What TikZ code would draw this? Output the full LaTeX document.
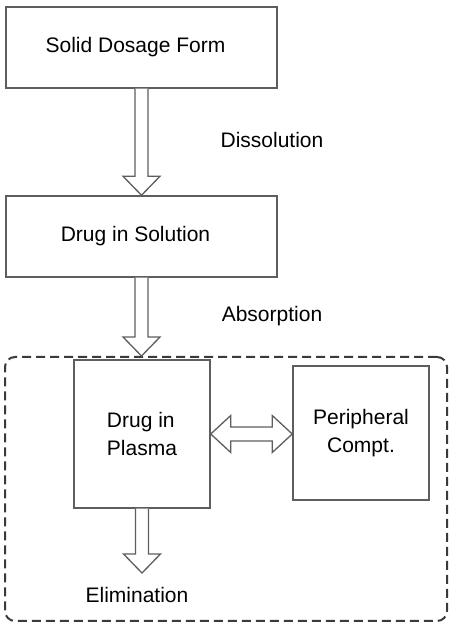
\documentclass[tikz,border=0pt]{standalone}
\usepackage{fontspec}
\setmainfont{Liberation Sans}
\usetikzlibrary{calc}

\definecolor{boxgray}{HTML}{5E5E5E}
\definecolor{dashgray}{HTML}{3A3A3A}

\tikzset{
  stage/.style={shape=rectangle, draw=boxgray, line width=1.5pt, fill=white, align=center, inner sep=0pt},
  hollow/.style={draw=boxgray, line width=1.3pt, fill=white, line join=miter},
  dashbox/.style={shape=rectangle, draw=dashgray, line width=2pt, dash pattern=on 9pt off 5pt, rounded corners=10pt, inner sep=0pt},
  rate/.style={align=center, inner sep=0pt}
}

% hollow block arrow pointing down, from #1 to the tip at #2
\newcommand{\fatdown}[2]{%
  \draw[hollow] let \p1=(#1), \p2=(#2) in
    (\x1-6.5pt,\y1) -- (\x1-6.5pt,\y2+19pt) -- (\x1-18.5pt,\y2+19pt) -- (\x1,\y2)
    -- (\x1+18.5pt,\y2+19pt) -- (\x1+6.5pt,\y2+19pt) -- (\x1+6.5pt,\y1);}

% hollow block arrow with two heads, from #1 to #2
\newcommand{\fatboth}[2]{%
  \draw[hollow] let \p1=(#1), \p2=(#2) in
    (\x1,\y1) -- (\x1+20pt,\y1+18.5pt) -- (\x1+20pt,\y1+7pt) -- (\x2-20pt,\y1+7pt)
    -- (\x2-20pt,\y1+18.5pt) -- (\x2,\y1) -- (\x2-20pt,\y1-18.5pt) -- (\x2-20pt,\y1-7pt)
    -- (\x1+20pt,\y1-7pt) -- (\x1+20pt,\y1-18.5pt) -- cycle;}

\begin{document}
\begin{tikzpicture}[x=1pt, y=1pt, font=\fontsize{21}{28}\selectfont]
\useasboundingbox (0,0) rectangle (448,624);

\node (body) at (226,135) [dashbox, minimum width=442, minimum height=264] {};

\begin{scope}[every node/.style={stage}]
    \node (solid) at (141.5,576.5) [minimum width=271, minimum height=81] {Solid Dosage Form\hspace*{12pt}};
    \node (solution) at (141.5,387.5) [minimum width=271, minimum height=81] {Drug in Solution\hspace*{12pt}};
    \node (plasma) at (142,190) [minimum width=136, minimum height=148, align=left] {Drug in\\Plasma};
    \node (periph) at (361,191) [minimum width=136, minimum height=134] {Peripheral\\Compt.};
\end{scope}

\begin{scope}[every node/.style={rate}]
    \node (dissol) at (272,484) {Dissolution};
    \node (absorb) at (272,308) {Absorption};
    \node (elim) at (137,29) {Elimination};
\end{scope}

\coordinate (elimtip) at (142,51);

\fatdown{solid.south}{solution.north}
\fatdown{solution.south}{body.north -| solution.south}
\fatdown{plasma.south}{elimtip}
\fatboth{plasma.east}{periph.west}
\end{tikzpicture}
\end{document}
